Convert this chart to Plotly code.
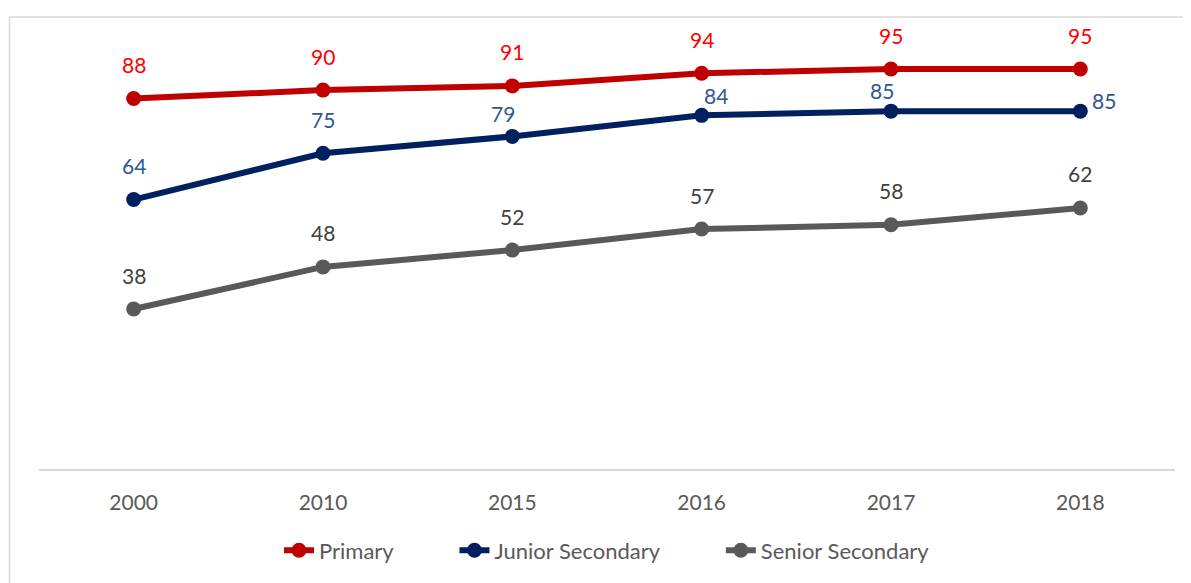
import plotly.graph_objects as go

years = ["2000", "2010", "2015", "2016", "2017", "2018"]
primary = [88, 90, 91, 94, 95, 95]
junior = [64, 75, 79, 84, 85, 85]
senior = [38, 48, 52, 57, 58, 62]

# label offsets (px) per point: (xshift, yshift)
primary_off = [(0, 34)] * 6
junior_off = [(0, 34), (0, 34), (-9, 23), (14, 20), (-9, 21), (24, 11)]
senior_off = [(0, 34)] * 6

series = [
    ("Primary", primary, "#C00000", "#FF0000", primary_off, 10),
    ("Junior Secondary", junior, "#002060", "#2F5597", junior_off, 10),
    ("Senior Secondary", senior, "#595959", "#404040", senior_off, 0),
]

FONT = "Lato, 'Open Sans', sans-serif"

fig = go.Figure()
annotations = []
for name, vals, lc, tc, offs, pad in series:
    fig.add_trace(go.Scatter(
        x=years, y=vals, name=name + "\u00a0" * pad, mode="lines+markers",
        line=dict(color=lc, width=6),
        marker=dict(color=lc, size=15),
    ))
    for i, (v, (dx, dy)) in enumerate(zip(vals, offs)):
        annotations.append(dict(
            x=i, y=v, xref="x", yref="y", text=str(v), showarrow=False,
            xshift=dx, yshift=dy,
            font=dict(family=FONT, size=21, color=tc),
            xanchor="center", yanchor="middle",
        ))

# page body adds an 8px margin, so the figure is shrunk by 8px
OFF = 8
L, R, T, B = 39 - OFF, 16, 48 - OFF, 111
W, H = 1191 - OFF, 583 - OFF
pw, ph = W - L - R, H - T - B

fig.update_layout(
    width=W, height=H,
    margin=dict(l=L, r=R, t=T, b=B, pad=0),
    paper_bgcolor="white", plot_bgcolor="white",
    font=dict(family=FONT, size=21, color="#595959"),
    showlegend=True,
    legend=dict(
        orientation="h", x=0.5, xanchor="center",
        y=(T + ph - (554 - OFF)) / ph, yanchor="middle",
        font=dict(family=FONT, size=22, color="#595959"),
        traceorder="normal",
    ),
    xaxis=dict(
        type="category", range=[-0.5, 5.5],
        showgrid=False, zeroline=False,
        showline=True, linecolor="#D9D9D9", linewidth=2,
        ticks="", ticklabelstandoff=14,
        tickfont=dict(family=FONT, size=21, color="#595959"),
        fixedrange=True,
    ),
    yaxis=dict(
        range=[0, 100], visible=False, showgrid=False, zeroline=False,
        fixedrange=True,
    ),
    annotations=annotations,
    shapes=[dict(
        type="rect", xref="paper", yref="paper",
        x0=(9.5 - OFF - L) / pw, x1=1.1,
        y0=(T + ph - (16.7 - OFF)) / ph, y1=-0.5,
        line=dict(color="#D9D9D9", width=1.5),
        fillcolor="rgba(0,0,0,0)", layer="below",
    )],
)

fig.write_html("out.html")
